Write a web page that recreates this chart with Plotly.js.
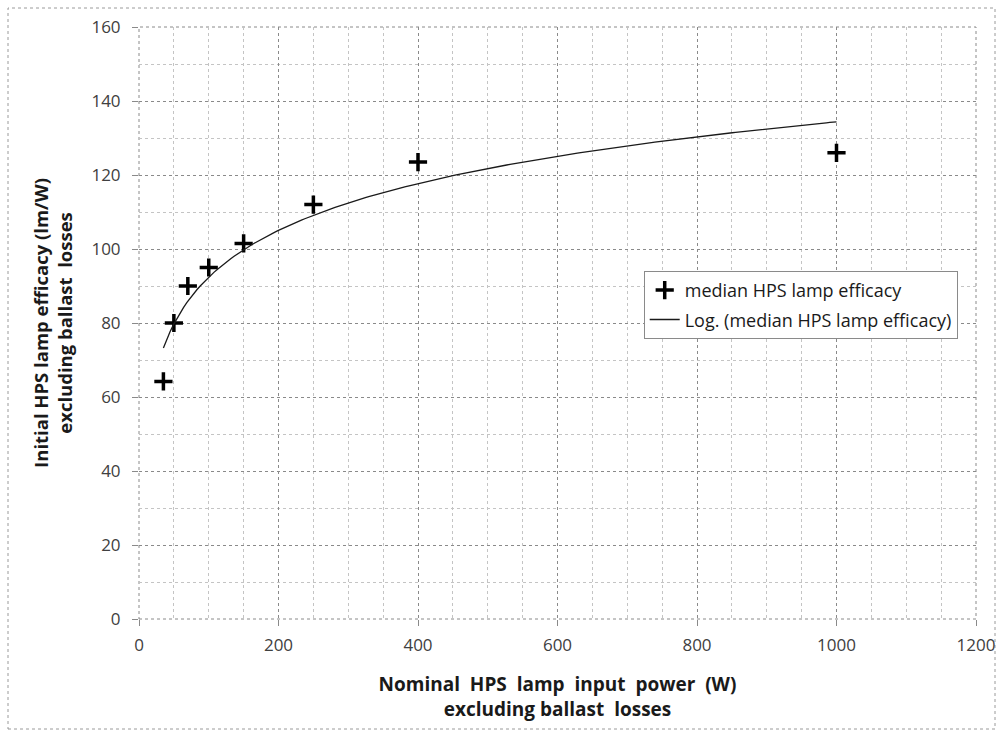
<!DOCTYPE html>
<html>
<head>
<meta charset="utf-8">
<script src="https://cdn.plot.ly/plotly-3.0.1.min.js"></script>
<style>
  html, body { margin: 0; padding: 0; background: #ffffff; }
  #chart { width: 1002px; height: 736px; }
</style>
</head>
<body>
<div id="chart"></div>
<script>
// ---- data ----
const lampPowerW = [35, 50, 70, 100, 150, 250, 400, 1000];
const medianEfficacy = [64.2, 80, 90, 95, 101.5, 112, 123.5, 126];
const seriesName = 'median HPS lamp efficacy';
const trendName = 'Log. (median HPS lamp efficacy)';
const xTickValues = [0, 200, 400, 600, 800, 1000, 1200];
const yTickValues = [0, 20, 40, 60, 80, 100, 120, 140, 160];

// Excel-style logarithmic trendline: least squares fit of y = a*ln(x) + b on the data above
function logFit(xs, ys) {
  const lx = xs.map(v => Math.log(v));
  const n = xs.length;
  const mx = lx.reduce((s, v) => s + v, 0) / n;
  const my = ys.reduce((s, v) => s + v, 0) / n;
  let sxy = 0, sxx = 0;
  for (let i = 0; i < n; i++) { sxy += (lx[i] - mx) * (ys[i] - my); sxx += (lx[i] - mx) ** 2; }
  const a = sxy / sxx;
  return { a: a, b: my - a * mx };
}
const fit = logFit(lampPowerW, medianEfficacy);
const xMin = Math.min(...lampPowerW), xMax = Math.max(...lampPowerW);
const trendX = [], trendY = [];
for (let i = 0; i <= 200; i++) {
  const x = xMin + (xMax - xMin) * i / 200;
  trendX.push(x);
  trendY.push(fit.a * Math.log(x) + fit.b);
}

const FONT = '"Open Sans", Lato, "Liberation Sans", sans-serif';

const traces = [
  {
    x: lampPowerW, y: medianEfficacy, name: seriesName,
    type: 'scatter', mode: 'markers', legendgroup: 'a',
    marker: { symbol: 'cross-thin-open', size: 13, color: '#000000',
              line: { width: 3.5, color: '#000000' } },
    hoverinfo: 'x+y'
  },
  {
    x: trendX, y: trendY, name: trendName,
    type: 'scatter', mode: 'lines', legendgroup: 'b',
    line: { color: '#1a1a1a', width: 1.3 },
    hoverinfo: 'skip'
  }
];

const gridMajor = '#8a8a8a';
const gridMinor = '#c4c4c4';

const layout = {
  width: 1002, height: 736,
  paper_bgcolor: '#ffffff', plot_bgcolor: '#ffffff',
  margin: { l: 139, r: 26, t: 27, b: 117 },
  font: { family: FONT, size: 16, color: '#404040' },
  showlegend: true,
  legend: {
    x: 0.603, y: 0.588, xanchor: 'left', yanchor: 'top',
    bgcolor: '#ffffff', bordercolor: '#8a8a8a', borderwidth: 1,
    font: { family: FONT, size: 18, color: '#1a1a1a' },
    tracegroupgap: 3, itemwidth: 30
  },
  xaxis: {
    range: [0, 1200], tickvals: xTickValues, ticktext: xTickValues.map(String),
    showgrid: true, gridcolor: gridMajor, griddash: 'dot', gridwidth: 1,
    zeroline: false, showline: false,
    ticks: 'outside', ticklen: 6, tickcolor: gridMajor,
    tickfont: { family: FONT, size: 17, color: '#404040' },
    ticklabelstandoff: 5,
    minor: { dtick: 50, showgrid: true, gridcolor: gridMinor, griddash: 'dot', gridwidth: 1 },
    title: { text: '<b>Nominal&nbsp; HPS&nbsp; lamp&nbsp; input&nbsp; power&nbsp; (W)<br>excluding ballast&nbsp; losses</b>',
             font: { family: FONT, size: 19, color: '#1a1a1a' }, standoff: 22 },
    automargin: false, fixedrange: true
  },
  yaxis: {
    range: [0, 160], tickvals: yTickValues, ticktext: yTickValues.map(String),
    showgrid: true, gridcolor: gridMajor, griddash: 'dot', gridwidth: 1,
    zeroline: false, showline: false,
    ticks: 'outside', ticklen: 6, tickcolor: gridMajor,
    tickfont: { family: FONT, size: 17, color: '#404040' },
    ticklabelstandoff: 8,
    minor: { dtick: 10, showgrid: true, gridcolor: gridMinor, griddash: 'dot', gridwidth: 1 },
    title: { text: '<b>Initial HPS lamp efficacy (lm/W)<br>excluding ballast&nbsp; losses</b>',
             font: { family: FONT, size: 18.5, color: '#1a1a1a' }, standoff: 13 },
    automargin: false, fixedrange: true
  },
  shapes: [
    { type: 'rect', xref: 'paper', yref: 'paper', x0: 0, x1: 1, y0: 0, y1: 1,
      line: { color: gridMajor, width: 1, dash: 'dot' }, layer: 'below' },
    { type: 'rect', xref: 'paper', yref: 'paper',
      x0: (8 - 139) / 837, x1: (995 - 139) / 837,
      y0: (619 - 729) / 592, y1: (619 - 8) / 592,
      line: { color: '#9a9a9a', width: 1, dash: 'dot' }, layer: 'below' }
  ]
};

Plotly.newPlot('chart', traces, layout, { displayModeBar: false, staticPlot: true });
</script>
</body>
</html>
